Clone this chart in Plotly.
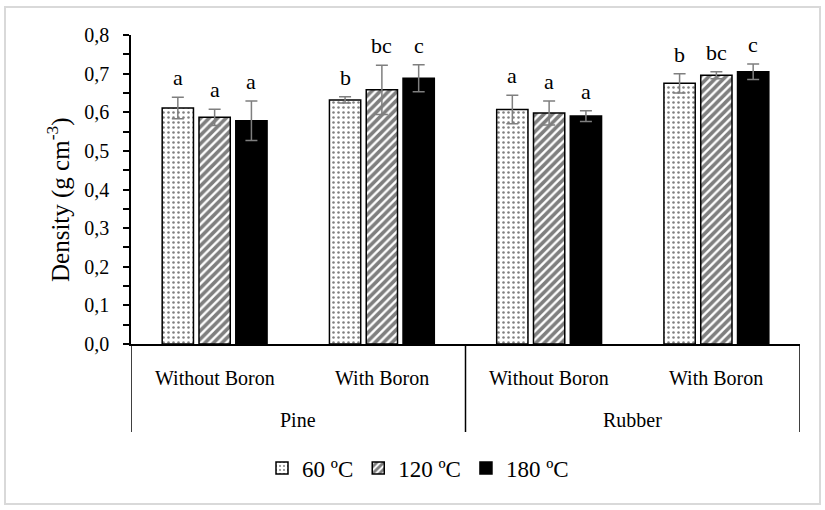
import plotly.graph_objects as go

species = ["Pine", "Pine", "Rubber", "Rubber"]
treatment = ["Without Boron", "With Boron", "Without Boron", "With Boron"]

temps = ["60 ºC", "120 ºC", "180 ºC"]
dens_60 = [0.611, 0.632, 0.607, 0.675]
dens_120 = [0.587, 0.658, 0.598, 0.696]
dens_180 = [0.578, 0.688, 0.590, 0.705]
err_60 = [0.028, 0.008, 0.037, 0.025]
err_120 = [0.021, 0.064, 0.031, 0.009]
err_180 = [0.051, 0.035, 0.014, 0.020]
letters_60 = ["a", "b", "a", "b"]
letters_120 = ["a", "bc", "a", "bc"]
letters_180 = ["a", "c", "a", "c"]

FONT = "Liberation Serif, Times New Roman, serif"
W, H = 825, 510
ML, MR, MT, MB = 131, 25, 35, 166
BARGAP = 0.34
pw = W - ML - MR
ph = H - MT - MB


def py(pixel_y):
    """paper y for a pixel row of the page"""
    return (H - MB - pixel_y) / ph


def px(pixel_x):
    return (pixel_x - ML) / pw


series = [
    (temps[0], dens_60, err_60, letters_60, dict(color="white", line=dict(color="black", width=1.5),
                                                  pattern=dict(shape=".", fgcolor="black", bgcolor="white", size=5, solidity=0.2))),
    (temps[1], dens_120, err_120, letters_120, dict(color="white", line=dict(color="black", width=1.5),
                                                     pattern=dict(shape="/", fgcolor="black", bgcolor="white", size=6, solidity=0.6))),
    (temps[2], dens_180, err_180, letters_180, dict(color="black", line=dict(color="black", width=1.5))),
]

fig = go.Figure()
x = [species, treatment]
annotations = []
ngroups = len(series)
stride = (1 - BARGAP) / ngroups
for k, (name, vals, errs, letters, marker) in enumerate(series):
    fig.add_trace(go.Bar(
        name=name, x=x, y=vals, marker=marker,
        error_y=dict(type="data", array=errs, color="#7f7f7f", thickness=1.5, width=6),
    ))
    for i, (v, e, t) in enumerate(zip(vals, errs, letters)):
        annotations.append(dict(
            x=i + (k - (ngroups - 1) / 2) * stride, y=v + e, xref="x", yref="y",
            text=t, showarrow=False, yanchor="bottom", yshift=5,
            font=dict(family=FONT, size=22, color="black"),
        ))

# category labels (two levels) and group dividers
for i, t in enumerate(treatment):
    annotations.append(dict(x=i, y=py(378), xref="x", yref="paper", text=t, showarrow=False,
                            yanchor="middle", font=dict(family=FONT, size=20, color="black")))
groups = []
for i, s in enumerate(species):
    if not groups or groups[-1][0] != s:
        groups.append([s, i, i])
    else:
        groups[-1][2] = i
for s, a, b in groups:
    annotations.append(dict(x=(a + b) / 2, y=py(420), xref="x", yref="paper", text=s, showarrow=False,
                            yanchor="middle", font=dict(family=FONT, size=20, color="black")))
bounds = [groups[0][1] - 0.5] + [b + 0.5 for _, _, b in groups]
for bx in bounds:
    fig.add_shape(type="line", xref="x", yref="paper", x0=bx, x1=bx, y0=0, y1=py(432),
                  line=dict(color="black", width=1.5))

annotations.append(dict(x=px(58), y=py(200), xref="paper", yref="paper", textangle=-90,
                        text="Density (g cm<sup>-3</sup>)", showarrow=False,
                        xanchor="center", yanchor="middle", font=dict(family=FONT, size=25, color="black")))

fig.add_shape(type="rect", xref="paper", yref="paper",
              x0=px(5), x1=px(820), y0=py(504), y1=py(7),
              line=dict(color="#d9d9d9", width=2), fillcolor="rgba(0,0,0,0)", layer="below")

fig.update_layout(
    width=W, height=H,
    margin=dict(l=ML, r=MR, t=MT, b=MB),
    paper_bgcolor="white", plot_bgcolor="white",
    barmode="group", bargap=BARGAP, bargroupgap=0.15,
    separators=",.",
    font=dict(family=FONT, size=19, color="black"),
    annotations=annotations,
    showlegend=True,
    legend=dict(orientation="h", x=px(418), xanchor="center", y=py(468), yanchor="middle",
                font=dict(family=FONT, size=23), itemwidth=30, traceorder="normal"),
)
fig.update_xaxes(
    type="multicategory", showline=True, linecolor="black", linewidth=1.5,
    ticks="", showticklabels=False, showdividers=False,
    range=[-0.5, len(treatment) - 0.5],
)
fig.update_yaxes(
    range=[0, 0.8], dtick=0.1, tickformat=".1f", showline=True, linecolor="black", linewidth=1.5,
    ticks="outside", ticklen=6, tickcolor="black", tickwidth=1.5,
    minor=dict(ticks="outside", ticklen=6, dtick=0.05, tickcolor="black", tickwidth=1.5),
    showgrid=False, zeroline=False, ticklabelstandoff=10,
    tickfont=dict(family=FONT, size=20, color="black"),
)

fig.write_html("out.html")
